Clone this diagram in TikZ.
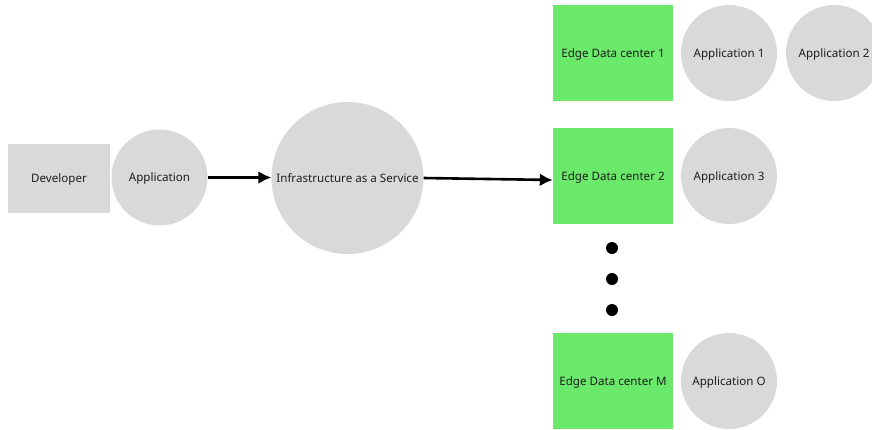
\documentclass[tikz,border=0pt]{standalone}
\usepackage{fontspec}
\setmainfont{Noto Sans}
\usetikzlibrary{arrows.meta,shapes}
\definecolor{boxgray}{HTML}{D9D9D9}
\definecolor{edgegreen}{HTML}{6AE96A}
\definecolor{txt}{HTML}{1E1E1E}

\begin{document}
\begin{tikzpicture}[x=1pt,y=-1pt,
  every node/.style={font=\fontsize{11.6}{13}\selectfont,text=txt,inner sep=0pt,
    text height=8.3pt,text depth=0pt},
  dev/.style={rectangle,fill=boxgray,minimum width=102pt,minimum height=69pt},
  app/.style={circle,fill=boxgray,minimum size=96pt},
  edc/.style={rectangle,fill=edgegreen,minimum width=120pt,minimum height=96pt},
  flow/.style={line width=2.6pt,-{Latex[length=13pt,width=13pt]}}]

\useasboundingbox (0,0) rectangle (872,429);

\node [dev] (dev) at (59,178) {Developer};
\node [app] (app) at (159.5,177.5) {Application};
\node [app,minimum size=152pt] (iaas) at (347.5,178) {Infrastructure as a Service};

\node [edc] (e1) at (613,53) {Edge Data center 1};
\node [edc] (e2) at (613,176) {Edge Data center 2};
\node [edc] (em) at (613,381) {Edge Data center M};

\node [app] (a1) at (729,53) {Application 1};
\node [app] (a2) at (834,53) {Application 2};
\node [app] (a3) at (729,176) {Application 3};
\node [app] (ao) at (729,381) {Application O};

\foreach \y in {248,279,310}
  \fill (612,\y) circle (6pt);

\draw [flow] (app.east) -- (app.east -| iaas.west);
\draw [flow] (iaas.east) -- ([yshift=-4pt]e2.west);

\end{tikzpicture}
\end{document}
